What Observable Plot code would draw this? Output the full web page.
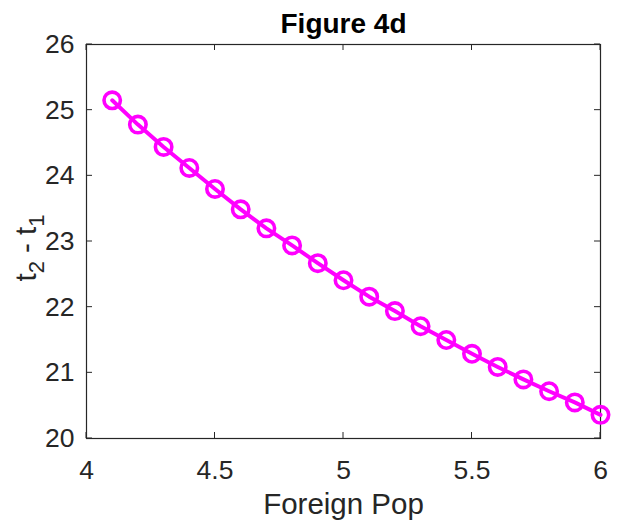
<!DOCTYPE html>
<html>
<head>
<meta charset="utf-8">
<script src="https://cdn.jsdelivr.net/npm/d3@7"></script>
<script src="https://cdn.jsdelivr.net/npm/@observablehq/plot@0.6"></script>
<style>
  html, body { margin: 0; padding: 0; background: #fff; }
  #chart svg { display: block; }
</style>
</head>
<body>
<div id="chart"></div>
<script>
// Foreign population vs. the gap t2 - t1
const foreignPop = [4.1, 4.2, 4.3, 4.4, 4.5, 4.6, 4.7, 4.8, 4.9, 5.0,
                    5.1, 5.2, 5.3, 5.4, 5.5, 5.6, 5.7, 5.8, 5.9, 6.0];
const timeGap = [25.15, 24.78, 24.44, 24.12, 23.80, 23.49, 23.20, 22.94, 22.67, 22.41,
                 22.16, 21.94, 21.71, 21.50, 21.29, 21.09, 20.90, 20.72, 20.55, 20.36];
const xTicks = [4, 4.5, 5, 5.5, 6];
const yTicks = [20, 21, 22, 23, 24, 25, 26];
const titleText = "Figure 4d";
const xLabel = "Foreign Pop";

const data = foreignPop.map((x, i) => ({x, y: timeGap[i]}));

const ink = "#262626";
const magenta = "#ff00ff";
const font = "'Liberation Sans', Arial, Helvetica, sans-serif";
const fmt = d3.format("~g");

const chart = Plot.plot({
  width: 621,
  height: 527,
  marginLeft: 86,
  marginRight: 21,
  marginTop: 44,
  marginBottom: 89,
  style: {fontFamily: font, background: "#fff", color: ink},
  x: {domain: [4, 6]},
  y: {domain: [20, 26]},
  marks: [
    // tick labels
    Plot.axisX(xTicks, {tickSize: 0, tickPadding: 22, fontSize: 26.5, fill: ink, label: null, tickFormat: fmt}),
    Plot.axisY(yTicks, {tickSize: 0, tickPadding: 12, fontSize: 26.5, fill: ink, label: null, tickFormat: fmt}),
    Plot.frame({stroke: ink, strokeWidth: 1.2}),
    Plot.line(data, {x: "x", y: "y", stroke: magenta, strokeWidth: 4}),
    Plot.dot(data, {x: "x", y: "y", r: 8.2, stroke: magenta, strokeWidth: 3.6, fill: "none"}),
    Plot.text([titleText], {frameAnchor: "top", dy: -12, lineAnchor: "bottom",
      fontSize: 28, fontWeight: "bold", fill: "#000"}),
    Plot.text([xLabel], {frameAnchor: "bottom", dy: 55, lineAnchor: "top",
      fontSize: 29.5, fill: ink})
  ]
});

document.getElementById("chart").appendChild(chart);

// Inward tick marks drawn from the scales
const svg = d3.select(chart);
const sx = chart.scale("x"), sy = chart.scale("y");
const [L, R] = sx.range, [B, T] = sy.range;
const tl = 6;
const g = svg.append("g").attr("stroke", ink).attr("stroke-width", 1);
xTicks.forEach(v => {
  const px = sx.apply(v);
  g.append("line").attr("x1", px).attr("x2", px).attr("y1", B).attr("y2", B - tl);
  g.append("line").attr("x1", px).attr("x2", px).attr("y1", T).attr("y2", T + tl);
});
yTicks.forEach(v => {
  const py = sy.apply(v);
  g.append("line").attr("x1", L).attr("x2", L + tl).attr("y1", py).attr("y2", py);
  g.append("line").attr("x1", R).attr("x2", R - tl).attr("y1", py).attr("y2", py);
});

// y-axis label with subscripts
const yl = svg.append("text")
  .attr("transform", `translate(36,${(T + B) / 2 + 7}) rotate(-90)`)
  .attr("text-anchor", "middle")
  .attr("font-family", font)
  .attr("font-size", 29.5)
  .attr("fill", ink)
  .style("white-space", "pre");
yl.append("tspan").text("t");
yl.append("tspan").attr("font-size", 22).attr("dy", 8).text("2");
yl.append("tspan").attr("dy", -8).text("\u00a0-\u00a0t");
yl.append("tspan").attr("font-size", 22).attr("dy", 8).text("1");
</script>
</body>
</html>
